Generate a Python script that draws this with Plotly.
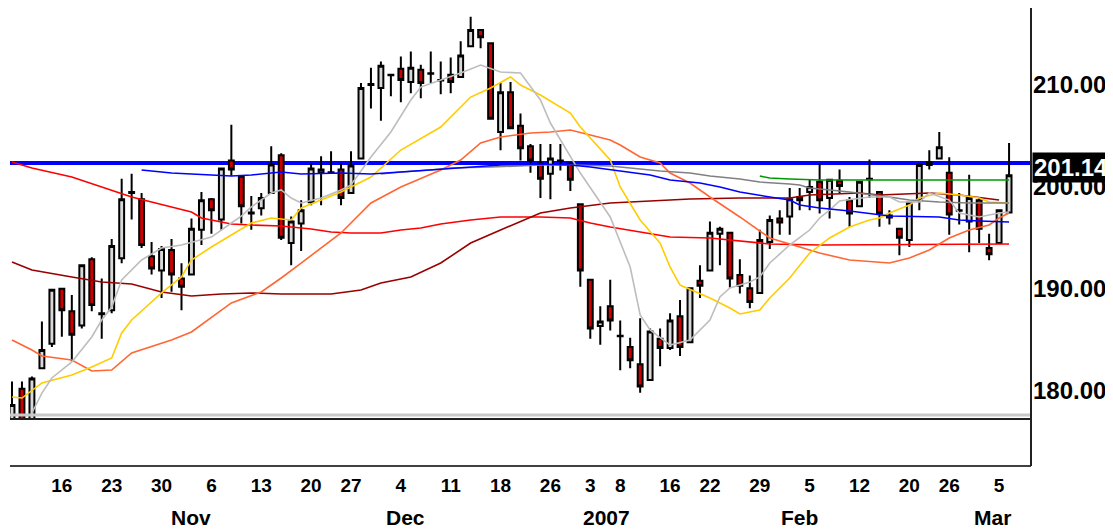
import pandas as pd
import plotly.graph_objects as go

# ---------------- data ----------------
holidays = ["2006-11-23", "2006-12-25", "2007-01-01", "2007-01-02", "2007-01-15", "2007-02-19"]
dates = [d.strftime("%Y-%m-%d") for d in
         pd.bdate_range("2006-10-09", "2007-03-06", freq="C", holidays=holidays)]

opens = [177.0, 180.2, 177.0, 182.2, 184.6, 190.0, 187.8, 186.4, 192.9, 187.5,
         187.9, 193.0, 199.4, 198.8, 193.2, 191.8, 193.8, 191.0, 191.4, 195.8,
         198.8, 196.8, 202.6, 201.0, 197.4, 197.9, 199.4, 203.1, 194.5, 196.4,
         198.5, 201.4, 201.4, 201.7, 199.4, 202.8, 210.0, 209.7, 211.0, 211.6,
         210.3, 211.5, 211.1, 210.5, 211.0, 210.8, 213.8, 215.4, 214.1, 205.4,
         209.3, 206.0, 204.0, 202.3, 201.3, 202.6, 202.3, 198.3, 190.9, 186.35,
         188.3, 185.4, 184.3, 182.6, 181.05, 185.1, 184.2, 187.3, 184.75, 190.8,
         191.8, 195.4, 195.5, 191.35, 190.05, 189.6, 194.6, 196.9, 197.1, 199.0,
         199.5, 200.5, 198.9, 200.6, 198.7, 198.1, 200.8, 199.5, 197.2, 195.9,
         194.8, 198.7, 202.4, 202.8, 201.4, 197.7, 196.6, 198.7, 194.0, 194.5,
         197.5]
highs = [180.9, 180.9, 181.4, 186.8, 190.0, 190.0, 189.4, 192.3, 193.1, 191.0,
         194.9, 200.8, 201.3, 199.4, 194.6, 194.2, 194.9, 192.5, 196.9, 199.5,
         198.9, 201.9, 206.1, 201.1, 199.1, 199.4, 204.0, 203.3, 197.1, 198.7,
         202.3, 203.0, 203.5, 202.3, 203.5, 210.2, 211.7, 212.3, 211.05, 212.8,
         213.3, 212.0, 213.3, 212.3, 212.7, 214.3, 216.7, 215.5, 214.1, 210.2,
         210.3, 207.2, 204.2, 204.2, 204.2, 204.2, 202.35, 198.4, 190.95, 188.3,
         190.9, 186.9, 185.2, 187.1, 186.1, 186.1, 187.6, 188.9, 190.1, 192.3,
         196.6, 196.1, 195.6, 192.9, 191.3, 195.8, 197.2, 197.7, 199.9, 199.9,
         200.7, 202.3, 200.8, 201.7, 199.0, 200.55, 202.7, 199.55, 197.7, 195.95,
         198.5, 202.3, 203.6, 205.4, 202.9, 199.4, 201.2, 199.0, 195.4, 197.75,
         204.3]
lows = [176.5, 176.5, 176.5, 182.2, 184.3, 185.3, 182.9, 186.1, 187.8, 185.1,
        187.6, 192.5, 196.8, 194.0, 191.4, 189.1, 189.7, 187.9, 191.3, 194.3,
        195.4, 195.8, 201.1, 196.4, 195.8, 197.2, 199.3, 194.8, 192.3, 193.7,
        198.2, 198.2, 201.3, 198.2, 199.4, 202.8, 207.7, 206.5, 208.9, 208.3,
        209.2, 208.7, 210.2, 209.1, 209.2, 210.8, 213.8, 213.6, 206.6, 203.6,
        205.7, 202.6, 201.4, 198.9, 198.8, 201.6, 199.6, 190.2, 185.1, 184.5,
        185.9, 182.0, 182.2, 179.8, 181.0, 182.4, 184.0, 183.4, 184.7, 189.1,
        191.8, 192.3, 190.1, 189.55, 188.1, 189.6, 193.9, 195.3, 195.3, 197.7,
        197.7, 197.4, 196.9, 199.4, 196.1, 198.1, 198.9, 196.1, 196.3, 193.3,
        194.1, 197.7, 201.7, 202.8, 195.3, 196.3, 193.6, 194.5, 192.8, 194.5,
        197.5]
closes = [178.6, 177.0, 181.2, 184.0, 189.9, 187.9, 185.5, 192.3, 188.4, 187.6,
          194.2, 198.8, 199.5, 194.3, 192.0, 193.9, 191.4, 190.2, 195.9, 198.7,
          197.7, 201.8, 201.7, 198.1, 197.5, 198.9, 202.2, 195.0, 196.6, 197.7,
          201.8, 201.7, 201.45, 198.9, 202.1, 209.7, 210.1, 211.9, 210.95, 210.5,
          211.7, 210.2, 211.15, 210.45, 210.3, 212.9, 215.4, 214.7, 206.7, 209.3,
          205.75, 203.8, 202.6, 200.8, 202.8, 202.55, 200.7, 191.8, 186.1, 186.8,
          186.9, 185.35, 183.0, 180.4, 185.8, 184.2, 186.9, 184.3, 190.05, 190.3,
          195.5, 195.9, 191.0, 190.3, 188.7, 194.8, 196.75, 196.5, 198.8, 198.7,
          200.0, 198.7, 200.7, 200.1, 197.4, 200.5, 200.75, 197.4, 197.0, 195.0,
          198.45, 202.15, 202.15, 203.9, 197.3, 197.65, 198.9, 195.9, 193.4, 197.7,
          201.14]

# horizontal resistance line
resistance_level = 202.35

# moving-average style lines: candle index -> value
red_idx = [0, 2, 6, 9, 12, 16, 18, 19, 20, 22, 24, 27, 30, 32, 34, 37, 39, 41, 43, 46,
           49, 53, 56, 58, 60, 63, 66, 70, 76, 81, 100]
red_val = [202.44, 201.85, 200.97, 199.99, 199.01, 198.03, 197.54, 196.95, 196.75, 196.36,
           196.26, 196.16, 195.87, 195.57, 195.48, 195.48, 195.77, 195.97, 196.36, 196.75,
           197.05, 197.05, 196.95, 196.46, 196.06, 195.57, 195.08, 194.99, 194.40, 194.30, 194.40]

maroon_idx = [0, 2, 6, 9, 12, 15, 18, 21, 24, 27, 32, 35, 37, 40, 43, 46, 49, 53, 56, 60,
              64, 68, 73, 78, 80, 85, 87, 92, 95, 99]
maroon_val = [192.63, 191.85, 191.16, 190.67, 190.47, 189.69, 189.29, 189.49, 189.59, 189.49,
              189.49, 189.88, 190.57, 191.16, 192.53, 194.49, 195.77, 197.44, 197.93, 198.42,
              198.62, 198.81, 198.91, 198.91, 199.21, 199.40, 199.21, 199.40, 199.21, 198.71]

orange_idx = [0, 2, 3, 6, 8, 10, 12, 16, 18, 20, 22, 25, 27, 29, 33, 36, 39, 43, 45, 47,
              49, 52, 54, 56, 58, 60, 61, 63, 65, 66, 68, 70, 73, 76, 79, 81, 84, 88, 90, 92,
              94, 96, 98, 99, 100]
orange_val = [184.98, 183.99, 183.41, 183.01, 181.93, 182.03, 183.70, 184.98, 185.76, 187.23,
              188.61, 189.69, 191.06, 192.53, 195.48, 198.42, 199.99, 201.66, 202.64, 204.31,
              204.90, 205.29, 205.39, 205.58, 205.09, 204.60, 204.11, 202.93, 202.35, 201.36,
              200.38, 199.01, 197.05, 194.99, 194.10, 193.51, 192.83, 192.53, 193.02, 193.81,
              194.99, 195.77, 196.26, 196.95, 197.44]

yellow_idx = [0, 1, 3, 6, 8, 10, 11, 12, 15, 17, 18, 20, 22, 24, 26, 27, 28, 29, 33, 36,
              39, 43, 46, 48, 50, 51, 53, 56, 57, 60, 61, 63, 65, 66, 67, 70, 72, 73, 75, 76,
              78, 80, 82, 84, 86, 87, 88, 90, 91, 93, 95, 97, 98, 100]
yellow_val = [179.38, 179.28, 180.76, 181.54, 182.33, 183.21, 185.66, 186.94, 189.59, 191.16,
              192.83, 194.10, 195.28, 196.46, 196.95, 196.85, 196.75, 197.93, 199.50, 200.97,
              203.62, 205.88, 208.82, 209.71, 210.79, 210.00, 209.02, 207.25, 205.88, 202.64,
              199.99, 196.75, 194.49, 192.14, 190.37, 189.10, 188.12, 187.53, 187.92, 189.10,
              191.06, 193.51, 194.99, 196.06, 196.75, 196.95, 197.44, 198.22, 198.91, 199.40,
              199.21, 198.91, 198.52, 198.42]

lgray_idx = [2, 3, 4, 6, 8, 9, 10, 11, 13, 15, 17, 19, 20, 22, 23, 24, 26, 27, 28, 29,
             31, 33, 34, 36, 38, 40, 41, 43, 45, 47, 49, 51, 53, 54, 55, 56, 57, 60, 62, 63,
             64, 66, 68, 70, 71, 72, 74, 75, 76, 78, 80, 81, 82, 83, 86, 88, 89, 91, 92, 94,
             95, 97, 99, 100]
lgray_val = [177.81, 179.77, 181.25, 182.82, 185.27, 186.94, 188.21, 190.86, 192.83, 194.00,
             194.30, 194.79, 195.08, 196.46, 197.14, 198.03, 199.40, 199.70, 198.91, 198.42,
             198.91, 199.70, 200.19, 202.93, 205.39, 208.53, 209.80, 210.49, 211.18, 211.96,
             211.28, 211.18, 208.53, 206.27, 204.60, 202.93, 201.36, 197.05, 192.14, 187.43,
             185.96, 184.48, 184.98, 186.94, 189.20, 190.08, 190.67, 191.16, 192.53, 194.30,
             195.77, 196.95, 197.73, 198.62, 199.01, 199.01, 198.52, 198.52, 199.40, 198.71,
             197.44, 197.05, 197.44, 197.54]

blue_idx = [13, 14, 16, 18, 20, 22, 24, 26, 27, 28, 29, 33, 36, 39, 42, 45, 49, 53, 56, 58,
            61, 64, 66, 69, 71, 73, 76, 78, 79, 81, 84, 88, 93, 95, 97, 100]
blue_val = [201.66, 201.56, 201.36, 201.27, 201.17, 201.07, 201.17, 201.36, 201.46, 201.36,
            201.27, 201.36, 201.27, 201.46, 201.66, 201.85, 202.15, 202.25, 202.15, 201.95,
            201.56, 201.17, 200.68, 200.38, 199.99, 199.50, 199.01, 198.71, 198.22, 197.93,
            197.64, 197.14, 197.05, 196.75, 196.65, 196.56]

dgray_idx = [37, 39, 42, 44, 48, 50, 53, 56, 60, 62, 65, 68, 70, 73, 75, 78, 79, 80, 84, 88,
             90, 93, 96, 100]
dgray_val = [201.27, 201.46, 201.66, 201.85, 201.95, 202.05, 202.15, 202.15, 202.05, 201.85,
             201.56, 201.36, 201.07, 200.78, 200.48, 200.28, 200.19, 199.89, 199.50, 199.01,
             198.71, 198.52, 198.42, 198.42]

green_idx = [75, 76, 78, 81, 100]
green_val = [201.07, 200.87, 200.78, 200.68, 200.68]

tick_dates = ["2006-10-16", "2006-10-23", "2006-10-30", "2006-11-06", "2006-11-13",
              "2006-11-20", "2006-11-27", "2006-12-04", "2006-12-11", "2006-12-18",
              "2006-12-26", "2007-01-03", "2007-01-08", "2007-01-16", "2007-01-22",
              "2007-01-29", "2007-02-05", "2007-02-12", "2007-02-20", "2007-02-26",
              "2007-03-05"]
tick_labels = ["16", "23", "30", "6", "13", "20", "27", "4", "11", "18", "26", "3", "8",
               "16", "22", "29", "5", "12", "20", "26", "5"]
month_labels = ["Nov", "Dec", "2007", "Feb", "Mar"]
month_dates = ["2006-11-02", "2006-12-04", "2007-01-04", "2007-02-02", "2007-03-02"]
month_shift = [0, 5, 6, 0, 3]

price_ticks = [180, 190, 200, 210]

# ---------------- figure ----------------
# the page body has an 8px default margin, so the figure is drawn 8px in from the corner
OFF = 8
W, H = 1113 - OFF, 529 - OFF
ML, MR, MT, MB = 10 - OFF, 82, 8 - OFF, 63
plot_h = H - MT - MB
screen_bottom = 466
FONT = "Arial, Liberation Sans, sans-serif"


def py(px):
    """screen pixel row -> paper y"""
    return (screen_bottom - px) / plot_h


fig = go.Figure()


def add_line(idx, vals, color, width=1.6):
    fig.add_trace(go.Scatter(x=[dates[i] for i in idx], y=vals, mode="lines",
                             line=dict(color=color, width=width), hoverinfo="skip"))


add_line(red_idx, red_val, "#FF0000")
add_line(maroon_idx, maroon_val, "#990000")
add_line(orange_idx, orange_val, "#FF6633")
add_line(yellow_idx, yellow_val, "#FFCC00")
add_line(dgray_idx, dgray_val, "#808080")
add_line(lgray_idx, lgray_val, "#BDBDBD")
add_line(blue_idx, blue_val, "#0000FF")
add_line(green_idx, green_val, "#009900")

fig.add_trace(go.Candlestick(
    x=dates, open=opens, high=highs, low=lows, close=closes,
    increasing=dict(line=dict(color="black", width=2), fillcolor="#D8D8D8"),
    decreasing=dict(line=dict(color="black", width=2), fillcolor="#CC0000"),
    whiskerwidth=0, hoverinfo="skip"))

# resistance line
fig.add_shape(type="line", xref="paper", x0=0, x1=1, yref="y",
              y0=resistance_level, y1=resistance_level,
              line=dict(color="#0000FF", width=4), layer="below")

# panel frame lines
fig.add_shape(type="line", xref="paper", yref="paper", x0=0, x1=1, y0=py(415), y1=py(415),
              line=dict(color="#C8C8C8", width=3))
fig.add_shape(type="line", xref="paper", yref="paper", x0=0, x1=1, y0=py(419), y1=py(419),
              line=dict(color="#202020", width=2))
fig.add_shape(type="line", xref="paper", yref="paper", x0=0, x1=1, y0=py(466), y1=py(466),
              line=dict(color="#404040", width=2))
fig.add_shape(type="line", xref="paper", yref="paper", x0=1, x1=1, y0=py(466), y1=py(8),
              line=dict(color="#202020", width=2))

# last price label
fig.add_annotation(xref="paper", x=1, xanchor="left", yref="y", y=closes[-1],
                   text=f"{closes[-1]:.2f}", showarrow=False, yshift=8, xshift=1,
                   bgcolor="black", borderpad=1,
                   font=dict(family=FONT, size=24, color="white", weight="bold"))

for lab, d, s in zip(month_labels, month_dates, month_shift):
    fig.add_annotation(xref="x", x=d, yref="paper", y=py(517), yanchor="middle",
                       text=lab, showarrow=False, xshift=s,
                       font=dict(family=FONT, size=21, color="black", weight="bold"))

fig.update_layout(
    width=W, height=H,
    margin=dict(l=ML, r=MR, t=MT, b=MB, autoexpand=False),
    paper_bgcolor="white", plot_bgcolor="white",
    showlegend=False,
    xaxis=dict(type="category", categoryorder="array", categoryarray=dates,
               range=[-0.2, 102.2], rangeslider=dict(visible=False),
               anchor="free", position=0, tickangle=0, automargin=False,
               tickmode="array", tickvals=tick_dates, ticktext=tick_labels,
               showgrid=False, zeroline=False, showline=False, ticks="",
               tickfont=dict(family=FONT, size=19, color="black", weight="bold"),
               ticklabelstandoff=6),
    yaxis=dict(domain=[py(418), 1], range=[177.32, 217.56], side="right",
               automargin=False,
               tickmode="array", tickvals=price_ticks,
               ticktext=[f"{v:.2f}" for v in price_ticks],
               showgrid=False, zeroline=False, showline=False, ticks="",
               tickfont=dict(family=FONT, size=24, color="black", weight="bold"),
               ticklabelstandoff=1),
)

fig.write_html("out.html")
